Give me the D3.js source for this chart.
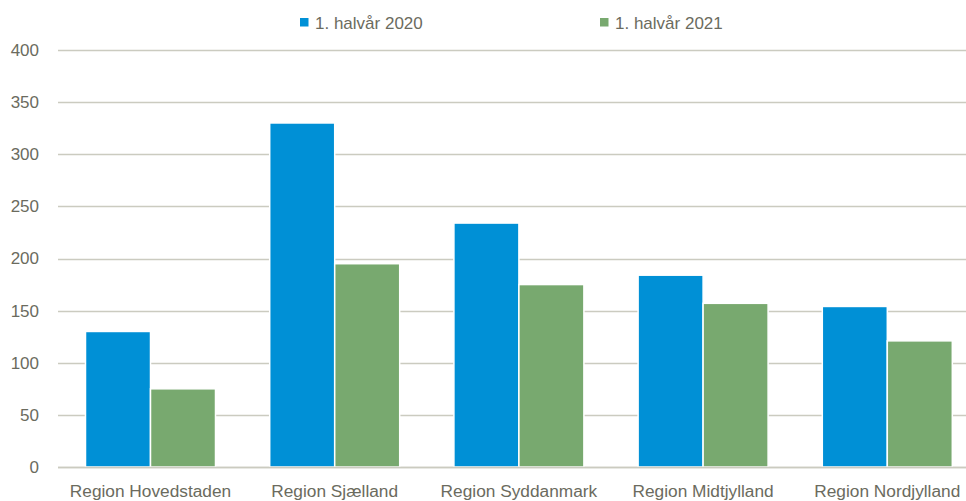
<!DOCTYPE html>
<html><head><meta charset="utf-8">
<script src="https://cdn.jsdelivr.net/npm/d3@7"></script>
<style>body{margin:0;background:#fff;overflow:hidden}svg{display:block}text{font-family:"Liberation Sans",Arial,sans-serif}</style>
</head><body><svg id="c" width="966" height="501"></svg>
<script>
const categories = ["Region Hovedstaden","Region Sjælland","Region Syddanmark","Region Midtjylland","Region Nordjylland"];
const seriesNames = ["1. halvår 2020","1. halvår 2021"];
const values2020 = [130, 330, 234, 184, 154];
const values2021 = [75, 195, 175, 157, 121];
const yTicks = [0,50,100,150,200,250,300,350,400];
const colors = ["#0090d6","#78a96f"];

(function(){
const svg = d3.select("#c");
const mLeft = 58.4, mRight = 979.4, mTop = 50, mBottom = 467;
const x = d3.scaleBand().domain(categories).range([mLeft, mRight]).paddingInner(0).paddingOuter(0);
const x1 = d3.scaleBand().domain([0,1]).range([0, x.bandwidth()]).paddingInner(0).paddingOuter(0.417);
const y = d3.scaleLinear().domain([0,400]).range([mBottom, mTop]);
const textColor = "#6b6b5e";

svg.append("g").selectAll("line").data(yTicks).join("line")
  .attr("x1", 58).attr("x2", 966)
  .attr("y1", d => Math.round(y(d)) + 0.5).attr("y2", d => Math.round(y(d)) + 0.5)
  .attr("stroke", "#cbcbc0").attr("stroke-width", 1.5);

svg.append("g").selectAll("text").data(yTicks).join("text")
  .attr("x", 39).attr("y", d => y(d)).attr("dy", "0.35em")
  .attr("text-anchor", "end").attr("fill", textColor).attr("font-size", 17)
  .text(d => d);

const series = [values2020, values2021];
series.forEach((vals, si) => {
  svg.append("g").selectAll("rect").data(vals).join("rect")
    .attr("x", (d, i) => x(categories[i]) + x1(si))
    .attr("width", x1.bandwidth())
    .attr("y", d => y(d))
    .attr("height", d => y(0) - y(d))
    .attr("fill", colors[si])
    .attr("stroke", "#ffffff").attr("stroke-width", 1.5);
});

svg.append("line").attr("x1", 58).attr("x2", 966).attr("y1", mBottom + 0.5).attr("y2", mBottom + 0.5)
  .attr("stroke", "#cbcbc0").attr("stroke-width", 1.5);

svg.append("g").selectAll("text").data(categories).join("text")
  .attr("x", d => x(d) + x.bandwidth() / 2).attr("y", 496.5)
  .attr("text-anchor", "middle").attr("fill", textColor).attr("font-size", 17.3)
  .text(d => d);

const legendX = [300, 600];
seriesNames.forEach((n, i) => {
  svg.append("rect").attr("x", legendX[i]).attr("y", 18).attr("width", 8.5).attr("height", 8.5).attr("fill", colors[i]);
  svg.append("text").attr("x", legendX[i] + 15).attr("y", 29).attr("fill", textColor).attr("font-size", 17).text(n);
});
})();
</script></body></html>
